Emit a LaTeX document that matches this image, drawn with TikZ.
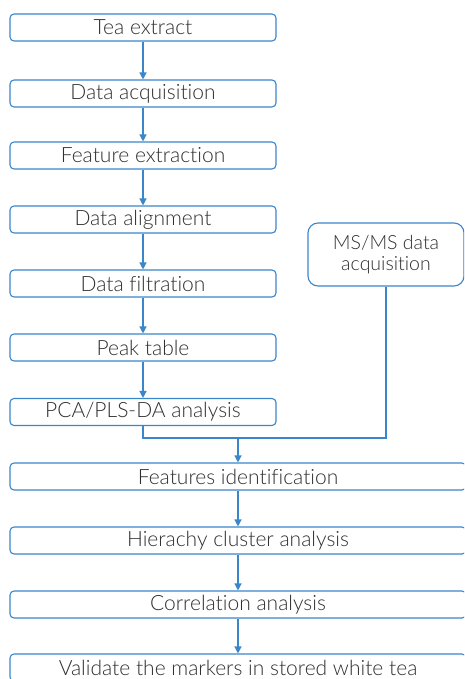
\documentclass[tikz,border=0pt]{standalone}
\usepackage{fontspec}
\setmainfont{Lato Light}[Ligatures=NoCommon]
\usetikzlibrary{arrows.meta}
\definecolor{flowblue}{HTML}{3A86CB}
\definecolor{txt}{HTML}{2E2E2E}
\begin{document}
\begin{tikzpicture}[x=1pt,y=-1pt,
  stepbox/.style={draw=flowblue, line width=1.1pt, rounded corners=4pt,
    minimum height=27pt, inner sep=0pt, text=txt, font=\fontsize{21}{23}\selectfont},
  upper/.style={stepbox, minimum width=266pt},
  lower/.style={stepbox, minimum width=456pt},
  link/.style={draw=flowblue, line width=1.3pt},
  arr/.style={link, -{Triangle[width=7pt,length=7pt]}}]
\useasboundingbox (0,0) rectangle (464,679);
\clip (0,0) rectangle (464,679);

% main chain
\node[upper] (tea)  at (143,27.5)  {Tea extract};
\node[upper] (acq)  at (143,93.5)  {Data acquisition};
\node[upper] (feat) at (143,155.5) {Feature extraction};
\node[upper] (align) at (143,219.5) {Data alignment};
\node[upper] (filt) at (143,283.5) {Data filtration};
\node[upper] (peak) at (143,347.5) {Peak table};
\node[upper] (pca)  at (143,412)   {PCA/PLS-DA analysis};

% side branch
\node[stepbox, rounded corners=10pt, minimum width=156pt, minimum height=63pt,
  align=center, font=\fontsize{19.5}{21}\selectfont] (msms) at (386,254.5)
  {MS/MS data\\acquisition};

% wide boxes
\node[lower] (ident) at (238,476.5) {Features identification};
\node[lower] (hca)   at (238,540.5) {Hierachy cluster analysis};
\node[lower] (corr)  at (238,604.5) {Correlation analysis};
\node[lower] (valid) at (238,667.5) {Validate the markers in stored white tea};

\coordinate (join) at (238,438);

\path[arr] (tea) -- (acq);
\path[arr] (acq) -- (feat);
\path[arr] (feat) -- (align);
\path[arr] (align) -- (filt);
\path[arr] (filt) -- (peak);
\path[arr] (peak) -- (pca);
\path[link] (pca.south) |- (join);
\path[link] (msms.south) |- (join);
\path[arr] (join) -- (ident.north);
\path[arr] (ident) -- (hca);
\path[arr] (hca) -- (corr);
\path[arr] (corr) -- (valid);
\end{tikzpicture}
\end{document}
